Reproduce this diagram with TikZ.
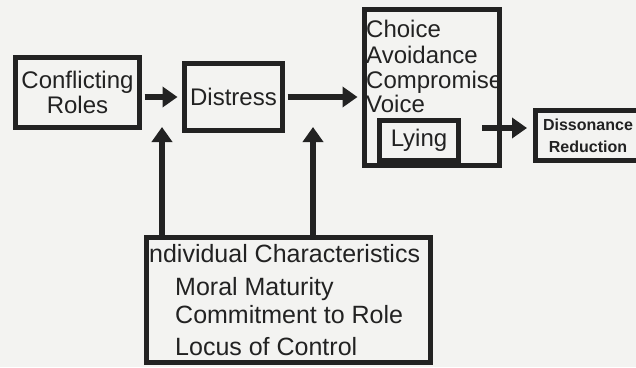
\documentclass[tikz,border=0pt]{standalone}
\usepackage{fontspec}
\setmainfont{Liberation Sans}
\usetikzlibrary{arrows.meta}
\definecolor{ink}{RGB}{34,34,34}
\definecolor{paper}{RGB}{243,243,241}
\tikzstyle{box}=[draw=ink,line width=5bp,inner sep=0pt,text=ink,align=center,font=\fontsize{24bp}{25bp}\selectfont]
\tikzstyle{edge}=[draw=ink,line width=6bp,-{Triangle[length=15bp,width=20bp]}]
\tikzstyle{entry}=[anchor=base west,inner sep=0pt,text=ink,font=\fontsize{24bp}{25bp}\selectfont]

\begin{document}
\begin{tikzpicture}[x=1bp,y=-1bp]
	% page
	\fill[paper] (0,0) rectangle (636,367);
	\useasboundingbox (0,0) rectangle (636,367);

	% First the boxes
	\node[box,minimum width=124bp,minimum height=70bp] (roles) at (77.5,92.5) {Conflicting\\Roles};
	\node[box,minimum width=98bp,minimum height=67bp] (distress) at (233.5,97) {Distress};
	\node[box,minimum width=135bp,minimum height=156bp] (opts) at (432,87.5) {};
	\node[box,minimum width=79bp,minimum height=40bp] (lying) at (419,140.5) {Lying};
	\node[box,minimum width=106bp,minimum height=50bp,font=\bfseries\fontsize{16bp}{22bp}\selectfont] (dissonance) at (588,135.5) {Dissonance\\Reduction};
	\node[box,minimum width=284bp,minimum height=125bp] (ind) at (288.5,300) {};

	% Then the lists inside them
	\foreach \y/\txt [count=\i] in {37/Choice, 63/Avoidance, 88/Compromise, 112/Voice}
		\node[entry] (opt\i) at (366,\y) {\txt};
	\node[entry,font=\fontsize{25bp}{25bp}\selectfont] (indhead) at (142,262) {Individual Characteristics};
	\foreach \y/\txt [count=\i] in {295/Moral Maturity, 323/Commitment to Role, 355/Locus of Control}
		\node[entry,font=\fontsize{25bp}{25bp}\selectfont] (ind\i) at (175,\y) {\txt};

	% Connect the boxes with arrows
	\coordinate (tipa) at (162,127);
	\coordinate (tipb) at (313,127);
	\coordinate (lieout) at (482,128);
	\path[edge,shorten <=2.5bp,shorten >=4.5bp] (roles.east |- distress.west) -- (distress.west);
	\path[edge,shorten <=2.5bp,shorten >=4.5bp] (distress.east) -- (distress.east -| opts.west);
	\path[edge,shorten >=5.5bp] (lieout) -- (lieout -| dissonance.west);
	\foreach \tip in {tipa, tipb}
		\path[edge] (ind.north -| \tip) -- (\tip);
\end{tikzpicture}
\end{document}
